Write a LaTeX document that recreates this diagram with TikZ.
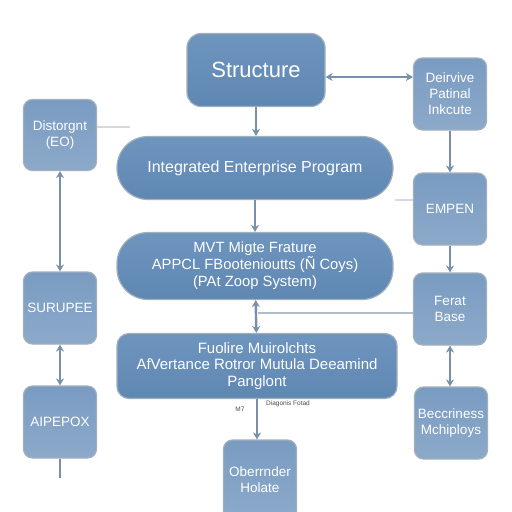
\documentclass[tikz,border=0pt]{standalone}
\usepackage{fontspec}
\setmainfont{Liberation Sans}
\usetikzlibrary{arrows.meta}
\definecolor{mainA}{HTML}{6E95BE}
\definecolor{mainB}{HTML}{5E87B2}
\definecolor{sideA}{HTML}{7A9CC2}
\definecolor{sideB}{HTML}{8CA9C9}
\definecolor{edgecol}{HTML}{A3AFBC}
\definecolor{arrcol}{HTML}{7890AA}
\definecolor{faintcol}{HTML}{D5D9DE}
\begin{document}
\begin{tikzpicture}[x=1pt,y=-1pt,
  mainbox/.style={draw=edgecol,line width=1.2pt,top color=mainA,bottom color=mainB,
    text=white,align=center,inner sep=2pt,font=\fontsize{16}{18}\selectfont},
  stadium/.style={mainbox,rounded corners=31pt,minimum width=276pt,minimum height=64pt},
  sidebox/.style={draw=edgecol,line width=1.2pt,top color=sideA,bottom color=sideB,
    text=white,align=center,rounded corners=9pt,minimum width=73pt,minimum height=72pt,
    inner sep=1pt,font=\fontsize{13.5}{16}\selectfont},
  conn/.style={draw=arrcol,line width=2.4pt,-{Stealth[length=7pt,width=8pt]}},
  bconn/.style={draw=arrcol,line width=2.4pt,{Stealth[length=7pt,width=8pt]}-{Stealth[length=7pt,width=8pt]}},
  plain/.style={draw=arrcol,line width=2.4pt},
  faint/.style={draw=faintcol,line width=2pt},
  tiny/.style={font=\fontsize{6.5}{7.5}\selectfont,text=black!70,inner sep=1pt}]
\useasboundingbox (0,0) rectangle (512,512);
\fill[white] (0,0) rectangle (512,512);

% center column
\node[mainbox,rounded corners=14pt,minimum width=138pt,minimum height=73pt,
  font=\fontsize{22}{25}\selectfont] (struct) at (256,70) {Structure};
\node[stadium,minimum height=63pt] (iep) at (255,168) {Integrated Enterprise Program};
\node[stadium,minimum height=67pt,font=\fontsize{14.8}{17}\selectfont] (mvt) at (255,266)
  {MVT Migte Frature\\APPCL FBootenioutts (Ñ Coys)\\(PAt Zoop System)};
\node[mainbox,rounded corners=12pt,minimum width=280pt,minimum height=65pt,
  font=\fontsize{15}{16.5}\selectfont] (fuo) at (257,366)
  {Fuolire Muirolchts\\AfVertance Rotror Mutula Deeamind\\Panglont};
\node[sidebox,minimum height=80pt] (ober) at (260,480) {Oberrnder\\Holate};

% right column
\node[sidebox] (der) at (450,94) {Deirvive\\Patinal\\Inkcute};
\node[sidebox] (emp) at (450,209) {EMPEN};
\node[sidebox] (fer) at (450,309) {Ferat\\Base};
\node[sidebox] (bec) at (451,423) {Beccriness\\Mchiploys};

% left column
\node[sidebox,minimum height=71pt] (dis) at (60,135) {Distorgnt\\(EO)};
\node[sidebox] (sur) at (60,308) {SURUPEE};
\node[sidebox] (aip) at (60,422) {AIPEPOX};
\coordinate (aipend) at (60,478);

% faint guide lines
\coordinate (f1) at (130,127);
\draw[faint] (dis.east |- f1) -- (f1);
\coordinate (f2) at (395,200);
\draw[faint] (f2) -- (emp.west |- f2);

% connectors
\draw[conn] (struct.south) -- (struct.south |- iep.north);
\draw[bconn] (struct.east |- 0,77) -- (der.west |- 0,77);
\draw[conn] (iep) -- (mvt);
\draw[bconn] (mvt) -- (fuo);
\coordinate (mid) at (258,313);
\draw[draw=arrcol!60,line width=1.5pt] (mid) -- (fer.west |- mid);
\draw[conn] (fuo.south) -- (fuo.south |- ober.north);
\node[tiny] (lbl1) at (240,409) {M7};
\node[tiny] (lbl2) at (288,404) {Diagonis Fotad};

\draw[conn] (der) -- (emp);
\draw[conn] (emp) -- (fer);
\draw[bconn] (fer.south) -- (fer.south |- bec.north);

\draw[bconn] (dis) -- (sur);
\draw[bconn] (sur) -- (aip);
\draw[plain] (aip) -- (aipend);
\end{tikzpicture}
\end{document}
